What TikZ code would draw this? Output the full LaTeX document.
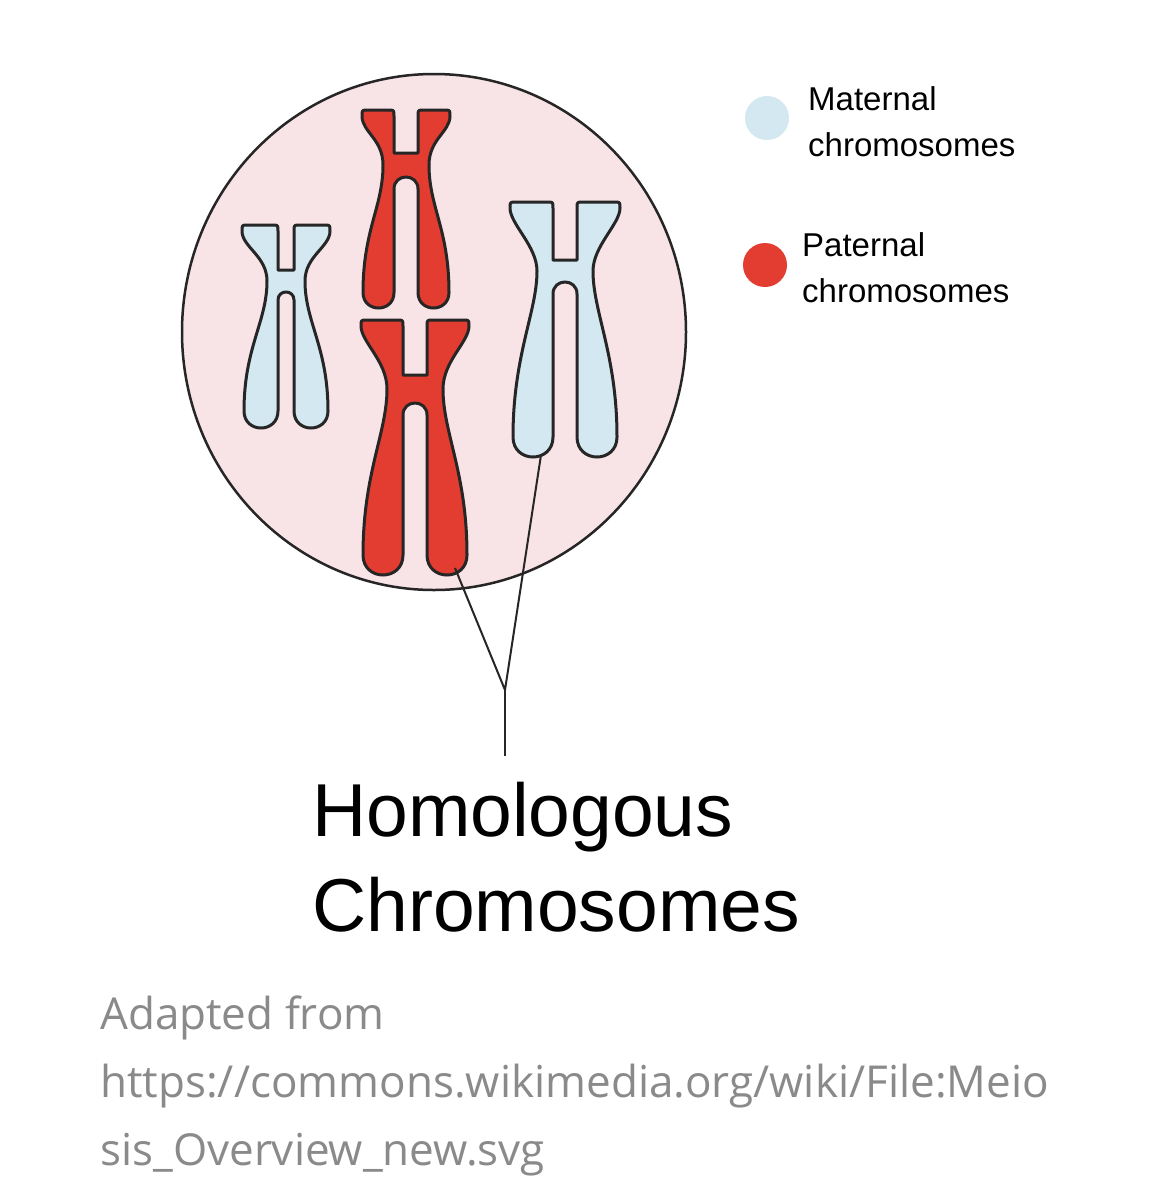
\documentclass[tikz,border=0pt]{standalone}
\usepackage{fontspec}
\setmainfont{Liberation Sans}
\newfontfamily\notefont{Open Sans}
\definecolor{matblue}{HTML}{D3E8F0}
\definecolor{patred}{HTML}{E23D30}
\definecolor{cellpink}{HTML}{F8E4E6}
\definecolor{notegray}{HTML}{8A8A8A}
\newcommand\chromo[8]{%
 \draw[chromline,fill=#1]
 (-#6,-#3) -- (-#6,-#2+6) .. controls (-#6,-#2) .. (-#6-6,-#2) -- (-#5+6,-#2) .. controls (-#5,-#2) .. (-#5,-#2+6)
 .. controls (-#5,-#2+22) and (-#7,-#3-14) .. (-#7,0)
 .. controls (-#7,#3+30) and (-#8,#4*0.45) .. (-#8,{#4-(#8-#6)/2})
 .. controls (-#8,{#4+(#8-#6)/6}) and (-#6,{#4+(#8-#6)/6}) .. (-#6,{#4-(#8-#6)/2})
 -- (-#6,#3+#6) .. controls (-#6,#3-#6/3) and (#6,#3-#6/3) .. (#6,#3+#6)
 -- (#6,{#4-(#8-#6)/2}) .. controls (#6,{#4+(#8-#6)/6}) and (#8,{#4+(#8-#6)/6}) .. (#8,{#4-(#8-#6)/2})
 .. controls (#8,#4*0.45) and (#7,#3+30) .. (#7,0)
 .. controls (#7,-#3-14) and (#5,-#2+22) .. (#5,-#2+6)
 .. controls (#5,-#2) .. (#5-6,-#2) -- (#6+6,-#2) .. controls (#6,-#2) .. (#6,-#2+6) -- (#6,-#3) -- cycle;}
\begin{document}
\begin{tikzpicture}[x=1pt,y=-1pt,
  chromline/.style={draw=black!85,line width=3pt,line join=round},
  lead/.style={draw=black!85,line width=2pt},
  legdot/.style={circle,inner sep=0pt,minimum size=44pt},
  legtxt/.style={anchor=north west,align=left,font=\fontsize{33}{46}\selectfont,inner sep=0pt},
  title/.style={anchor=north west,align=left,font=\fontsize{75}{95}\selectfont,inner sep=0pt},
  note/.style={anchor=north west,align=left,text=notegray,font=\notefont\fontsize{44}{68}\selectfont,inner sep=0pt}]
\useasboundingbox (0,0) rectangle (1149,1200);
\fill[white] (0,0) rectangle (1149,1200);
\draw[fill=cellpink,draw=black!85,line width=2.5pt] (434,332) ellipse[x radius=252,y radius=258];
\begin{scope}[shift={(286,281)}]\chromo{matblue}{56}{11}{147}{44}{8}{19}{42}\end{scope}
\begin{scope}[shift={(406,165)}]\chromo{patred}{55}{12}{143}{44}{12}{23}{43}\end{scope}
\begin{scope}[shift={(415,389)}]\chromo{patred}{69}{14}{186}{54}{12}{28}{52}\end{scope}
\begin{scope}[shift={(565,271)}]\chromo{matblue}{69}{11}{186}{55}{12}{28}{52}\end{scope}
\coordinate (redend) at (455,568);
\coordinate (blueend) at (541,455);
\coordinate (join) at (505,690);
\coordinate (stem) at (505,756);
\draw[lead] (redend) -- (join) -- (blueend);
\draw[lead] (join) -- (stem);
\node[legdot,fill=matblue] (mdot) at (767,118) {};
\node[legdot,fill=patred] (pdot) at (765,265) {};
\node[legtxt] (mtxt) at (808,86) {Maternal\\chromosomes};
\node[legtxt] (ptxt) at (802,232) {Paternal\\chromosomes};
\node[title] (hom) at (312,782) {Homologous\\Chromosomes};
\node[note] (src) at (100,996) {Adapted from\\https://commons.wikimedia.org/wiki/File:Meio\\sis\_Overview\_new.svg};
\end{tikzpicture}
\end{document}
